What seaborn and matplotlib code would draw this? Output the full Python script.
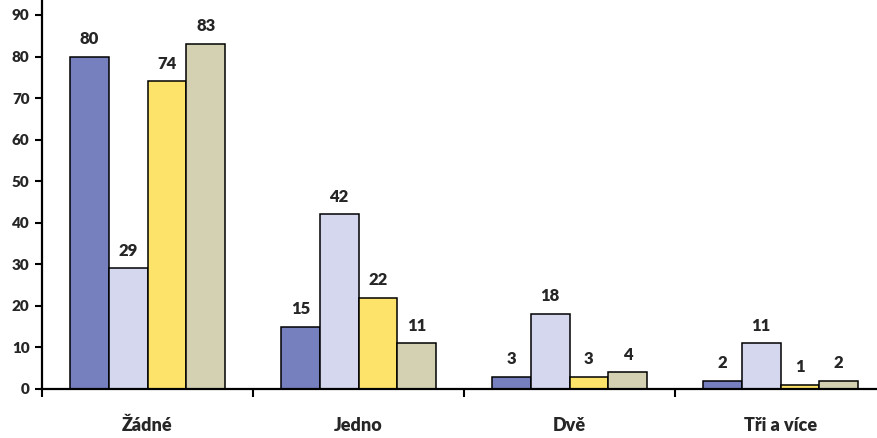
import matplotlib.pyplot as plt
import pandas as pd
import seaborn as sns
import numpy as np

# data
categories = ['Žádné', 'Jedno', 'Dvě', 'Tři a více']
series = ['A', 'B', 'C', 'D']
values_a = [80, 15, 3, 2]
values_b = [29, 42, 18, 11]
values_c = [74, 22, 3, 1]
values_d = [83, 11, 4, 2]
colors = ['#7780bf', '#d5d7ee', '#fee36a', '#d4d1b3']
y_ticks = [0, 10, 20, 30, 40, 50, 60, 70, 80, 90]

rows = []
for s, vals in zip(series, [values_a, values_b, values_c, values_d]):
    for c, v in zip(categories, vals):
        rows.append({'cat': c, 'series': s, 'value': v})
df = pd.DataFrame(rows)

sns.set_style('white')
plt.rcParams['font.family'] = ['Lato', 'DejaVu Sans']

fig = plt.figure(figsize=(8.77, 4.38), dpi=100)
ax = fig.add_axes([42 / 877, 49 / 438, 835 / 877, 389 / 438])

sns.barplot(data=df, x='cat', y='value', hue='series', order=categories,
            hue_order=series, palette=colors, width=0.735, edgecolor='black',
            linewidth=1.1, saturation=1, legend=False, ax=ax)

for cont in ax.containers:
    ax.bar_label(cont, padding=7, fontsize=12, fontweight='heavy')

ax.set_xlim(-0.5, 3.457)
ax.set_ylim(0, 93.6)
ax.set_yticks(y_ticks)
ax.set_yticklabels([str(t) for t in y_ticks], fontsize=11, fontweight='heavy')
ax.set_xticks(range(len(categories)))
ax.set_xticklabels(categories, fontsize=13, fontweight='heavy')
ax.tick_params(axis='x', which='major', length=0, pad=20)
ax.set_xticks(np.arange(-0.5, 3.0, 1.0), minor=True)
ax.tick_params(axis='x', which='minor', length=6, width=1.5, direction='out', color='black', bottom=True)
ax.tick_params(axis='y', length=5, width=1.5, direction='out', color='black', left=True, pad=4)
ax.set_xlabel('')
ax.set_ylabel('')

for side in ['top', 'right']:
    ax.spines[side].set_visible(False)
for side in ['left', 'bottom']:
    ax.spines[side].set_color('black')
    ax.spines[side].set_linewidth(1.6)

fig.savefig('out.png', dpi=100)
